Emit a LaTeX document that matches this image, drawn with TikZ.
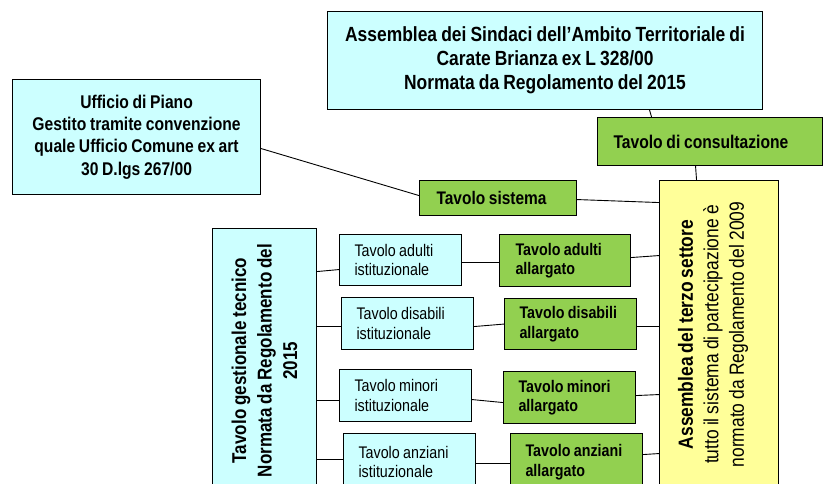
\documentclass[tikz,border=0pt]{standalone}
\usepackage{fontspec}
\setmainfont{Liberation Sans}[FakeStretch=0.85, WordSpace=0.85]
\usepackage{xcolor}
\usetikzlibrary{math}
\definecolor{mycyan}{RGB}{204,255,255}
\definecolor{mygreen}{RGB}{146,208,80}
\definecolor{myyellow}{RGB}{255,255,153}

\tikzset{
  box/.style={draw, line width=1.1pt, anchor=north west, inner sep=0pt, execute at begin node={\spaceskip=0pt\relax}},
  cyanbox/.style={box, fill=mycyan},
  greenbox/.style={box, fill=mygreen},
  tab/.style={inner xsep=15pt, align=left, minimum height=52pt, font=\fontsize{16.8}{19.5}\selectfont},
  tabbold/.style={tab, font=\bfseries\fontsize{16.8}{19.5}\selectfont},
  link/.style={line width=0.9pt},
}

\begin{document}
\begin{tikzpicture}[x=1pt, y=-1pt]
\tikzmath{
\wb=132;
\tw=\wb-30;
}
\useasboundingbox (0,0) rectangle (823,483);
\clip (0,0) rectangle (823,483);

% top boxes
\node[cyanbox, minimum width=435pt, minimum height=98pt, align=center, font=\bfseries\fontsize{20.5}{24}\selectfont] (sindaci) at (327,11) {Assemblea dei Sindaci dell’Ambito Territoriale di\\Carate Brianza ex L 328/00\\Normata da Regolamento del 2015};
\node[greenbox, minimum width=225pt, minimum height=48pt, inner xsep=16pt, text width=193pt, align=left, font=\bfseries\fontsize{18.4}{22}\selectfont] (consult) at (597,117) {Tavolo di consultazione};
\node[cyanbox, minimum width=248pt, minimum height=115pt, align=center, font=\bfseries\fontsize{18.4}{22.3}\selectfont] (ufficio) at (12,79) {Ufficio di Piano\\Gestito tramite convenzione\\quale Ufficio Comune ex art\\30 D.lgs 267/00};
\node[greenbox, minimum width=157pt, minimum height=35pt, inner xsep=17pt, text width=123pt, align=left, font=\bfseries\fontsize{18.2}{22}\selectfont] (sistema) at (419,180) {Tavolo sistema};

% vertical boxes
\node[box, fill=myyellow, minimum width=119pt, minimum height=308pt] (terzo) at (659,180) {};
\node[rotate=90, align=center, font=\fontsize{20.5}{25.5}\selectfont] (terzotxt) at ([xshift=-6pt]terzo.center) {\textbf{Assemblea del terzo settore}\\tutto il sistema di partecipazione è\\normato da Regolamento del 2009};
\node[cyanbox, minimum width=104pt, minimum height=264pt] (gest) at (212,228) {};
\node[rotate=90, align=center, font=\bfseries\fontsize{20}{25.5}\selectfont] (gesttxt) at (gest.center) {Tavolo gestionale tecnico\\Normata da Regolamento del\\2015};

% tavoli
\node[cyanbox, tab, minimum width=122pt, minimum height=51pt, text width=92pt] (adultiI) at (339,234) {Tavolo adulti\\istituzionale};
\node[greenbox, tabbold, inner xsep=16pt, minimum width=131pt, text width=99pt] (adultiA) at (499,234) {Tavolo adulti\\allargato};
\node[cyanbox, tab, minimum width=\wb pt, text width=\tw pt] (disabiliI) at (341,297) {Tavolo disabili\\istituzionale};
\node[greenbox, tabbold, minimum width=\wb pt, minimum height=51pt, text width=\tw pt] (disabiliA) at (504,298) {Tavolo disabili\\allargato};
\node[cyanbox, tab, minimum width=\wb pt, text width=\tw pt] (minoriI) at (339,369) {Tavolo minori\\istituzionale};
\node[greenbox, tabbold, minimum width=\wb pt, text width=\tw pt] (minoriA) at (503,371) {Tavolo minori\\allargato};
\node[cyanbox, tab, minimum width=\wb pt, minimum height=57pt, text width=\tw pt] (anzianiI) at (343,433) {Tavolo anziani\\istituzionale};
\node[greenbox, tabbold, minimum width=\wb pt, minimum height=57pt, text width=\tw pt] (anzianiA) at (510,433) {Tavolo anziani\\allargato};

% connectors
\draw[link] ([xshift=104.5pt]sindaci.south) -- ([xshift=-58.5pt]consult.north);
\draw[link] ([xshift=-14.5pt]consult.south) -- ([xshift=-22.5pt]terzo.north);
\draw[link] ([yshift=-11.5pt]ufficio.east) -- ([yshift=2.5pt]sistema.west);
\draw[link] ([yshift=-1.5pt]sistema.east) -- ([yshift=132pt]terzo.west);

\draw[link] ([yshift=89pt]gest.east) -- ([yshift=-9.5pt]adultiI.west);
\draw[link] ([yshift=-2.5pt]adultiI.east) -- ([yshift=-2pt]adultiA.west);
\draw[link] ([yshift=3pt]adultiA.east) -- ([yshift=79pt]terzo.west);
\draw[link] ([yshift=34pt]gest.east) -- ([yshift=-3pt]disabiliI.west);
\draw[link] ([yshift=-3pt]disabiliI.east) -- (disabiliA.west);
\draw[link] ([yshift=-2.5pt]disabiliA.east) -- ([yshift=8pt]terzo.west);
\draw[link] ([yshift=-40pt]gest.east) -- ([yshift=-5pt]minoriI.west);
\draw[link] ([yshift=-4pt]minoriI.east) -- ([yshift=-5pt]minoriA.west);
\draw[link] ([yshift=2pt]minoriA.east) -- ([yshift=-60pt]terzo.west);
\draw[link] ([yshift=-99pt]gest.east) -- ([yshift=2.5pt]anzianiI.west);
\draw[link] ([yshift=-1.5pt]anzianiI.east) -- ([yshift=-1.5pt]anzianiA.west);
\draw[link] ([yshift=7.5pt]anzianiA.east) -- ([yshift=-119pt]terzo.west);
\end{tikzpicture}
\end{document}
